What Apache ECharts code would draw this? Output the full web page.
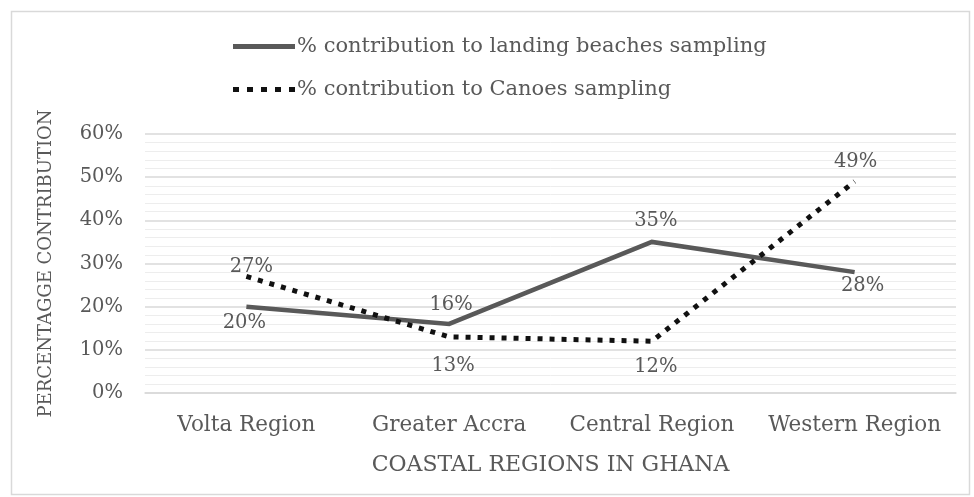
<!DOCTYPE html>
<html>
<head>
<meta charset="utf-8">
<script src="https://cdn.jsdelivr.net/npm/echarts@6/dist/echarts.min.js"></script>
<style>
  html, body { margin: 0; padding: 0; background: #ffffff; }
  #chart { width: 974px; height: 497px; }
</style>
</head>
<body>
<div id="chart"></div>
<script>
// Coastal regions along the x axis
const regions = ['Volta Region', 'Greater Accra', 'Central Region', 'Western Region'];
// Percentage contribution of each region (%)
const landingBeaches = [20, 16, 35, 28];
const canoes = [27, 13, 12, 49];
// Series names shown in the legend
const seriesNames = ['% contribution to landing beaches sampling', '% contribution to Canoes sampling'];
// Y axis range and step (%)
const yMin = 0, yMax = 60, yStep = 10;

const FONT = 'DejaVu Serif';
const TEXT = '#595959';
const SOLID = '#595959';
const DOTS = '#111111';

// Label offsets from each point, in pixels: [dx, dy]
const landingLabelOffset = [[-2, 16], [2, -19], [4, -21], [8, 14]];
const canoeLabelOffset = [[5, -10], [4, 29], [4, 26], [1, -20]];

function withLabels(values, offsets) {
  return values.map((v, i) => ({
    value: v,
    label: { position: 'inside', offset: offsets[i] }
  }));
}

const labelStyle = {
  show: true,
  formatter: p => p.value + '%',
  fontFamily: FONT, fontSize: 19.5, color: TEXT
};

const legendText = { fontFamily: FONT, fontSize: 21, color: TEXT, padding: [0, 0, 0, -3] };

const chart = echarts.init(document.getElementById('chart'), null, { renderer: 'canvas' });

chart.setOption({
  animation: false,
  backgroundColor: '#ffffff',
  graphic: [{
    type: 'rect', left: 9, top: 9, silent: true,
    shape: { width: 958, height: 483 },
    style: { fill: 'none', stroke: '#d9d9d9', lineWidth: 1.5 }
  }],
  legend: [{
    data: [{
      name: seriesNames[0],
      icon: 'path://M0,0h62v5h-62z',
      itemStyle: { color: SOLID }
    }],
    left: 228, top: 31, itemWidth: 62, itemHeight: 5, itemGap: 0,
    textStyle: legendText
  }, {
    data: [{
      name: seriesNames[1],
      icon: 'path://M0,0h6v5h-6zM14,0h6v5h-6zM28,0h6v5h-6zM42,0h6v5h-6zM56,0h6v5h-6z',
      itemStyle: { color: DOTS }
    }],
    left: 228, top: 74, itemWidth: 62, itemHeight: 5, itemGap: 0,
    textStyle: legendText
  }],
  grid: { left: 145, right: 18, top: 134, bottom: 104, containLabel: false },
  xAxis: {
    type: 'category',
    data: regions,
    boundaryGap: true,
    name: 'COASTAL REGIONS IN GHANA',
    nameLocation: 'middle',
    nameGap: 61,
    nameTextStyle: { fontFamily: FONT, fontSize: 22, color: TEXT },
    axisLine: { show: true, lineStyle: { color: '#d9d9d9', width: 1.5 } },
    axisTick: { show: false },
    axisLabel: { interval: 0, fontFamily: FONT, fontSize: 21.5, color: TEXT, margin: 21 }
  },
  yAxis: {
    type: 'value',
    min: yMin, max: yMax, interval: yStep,
    name: 'PERCENTAGGE CONTRIBUTION',
    nameLocation: 'middle',
    nameGap: 90,
    nameTextStyle: { fontFamily: FONT, fontSize: 18, color: TEXT },
    axisLine: { show: false },
    axisTick: { show: false },
    axisLabel: { fontFamily: FONT, fontSize: 19.5, color: TEXT, margin: 22, formatter: v => v + '%' },
    splitLine: { show: true, lineStyle: { color: '#d9d9d9', width: 1.5 } },
    minorTick: { show: false, splitNumber: 5 },
    minorSplitLine: { show: true, lineStyle: { color: '#ededed', width: 1 } }
  },
  series: [{
    name: seriesNames[0],
    type: 'line',
    data: withLabels(landingBeaches, landingLabelOffset),
    symbol: 'circle',
    symbolSize: 0,
    showSymbol: true,
    lineStyle: { color: SOLID, width: 4.5, cap: 'butt', join: 'miter' },
    itemStyle: { color: SOLID },
    label: labelStyle,
    z: 3
  }, {
    name: seriesNames[1],
    type: 'line',
    data: withLabels(canoes, canoeLabelOffset),
    symbol: 'circle',
    symbolSize: 0,
    showSymbol: true,
    lineStyle: { color: DOTS, width: 5, type: [5, 7], cap: 'butt', join: 'bevel' },
    itemStyle: { color: DOTS },
    label: labelStyle,
    z: 4
  }]
});
</script>
</body>
</html>
